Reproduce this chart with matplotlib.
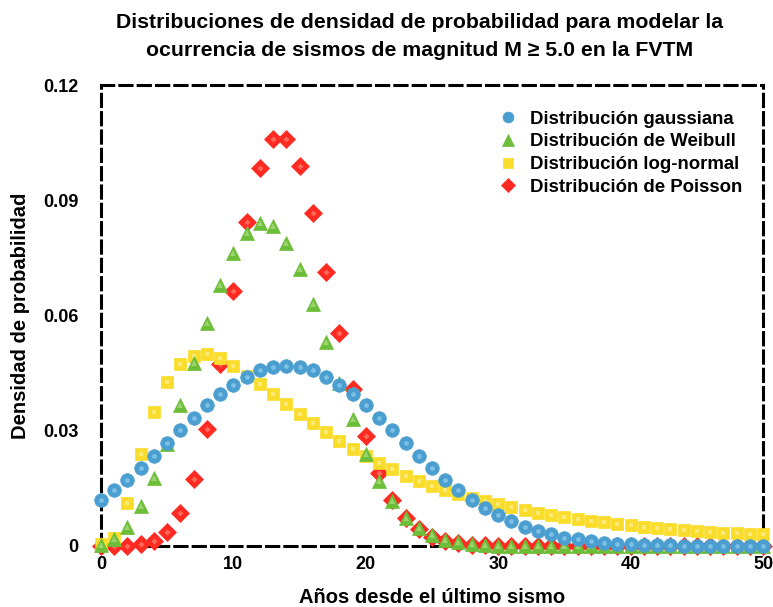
import matplotlib
matplotlib.use('Agg')
import matplotlib.pyplot as plt

plt.rcParams['font.family'] = ['Liberation Sans', 'DejaVu Sans']
plt.rcParams['font.weight'] = 'bold'

# años desde el último sismo
anios = list(range(0, 51))

# densidades
gaussiana = [0.0121, 0.0146, 0.0173, 0.0203, 0.0235, 0.0268, 0.0301, 0.0334, 0.0366, 0.0395,
             0.0420, 0.0441, 0.0457, 0.0466, 0.0469, 0.0466, 0.0457, 0.0441, 0.0420, 0.0395,
             0.0366, 0.0334, 0.0301, 0.0268, 0.0235, 0.0203, 0.0173, 0.0146, 0.0121, 0.0099,
             0.0080, 0.0064, 0.0050, 0.0039, 0.0030, 0.0022, 0.0017, 0.0012, 0.0009, 0.0006,
             0.0004, 0.0003, 0.0002, 0.00014, 0.0001, 0.00006, 0.00004, 0.00002, 0.00001, 0.0, 0.0]

weibull = [0.0003, 0.0018, 0.0050, 0.0104, 0.0177, 0.0265, 0.0368, 0.0476, 0.0580, 0.0680,
           0.0763, 0.0815, 0.0840, 0.0832, 0.0789, 0.0720, 0.0630, 0.0530, 0.0424, 0.0330,
           0.0240, 0.0170, 0.0117, 0.0073, 0.0047, 0.0029, 0.0016, 0.0010, 0.0005, 0.0003,
           0.0001, 0.0001, 0.0, 0.0, 0.0, 0.0, 0.0, 0.0, 0.0, 0.0,
           0.0, 0.0, 0.0, 0.0, 0.0, 0.0, 0.0, 0.0, 0.0, 0.0, 0.0]

lognormal = [0.0004, 0.0020, 0.0112, 0.0239, 0.0349, 0.0427, 0.0474, 0.0495, 0.0500, 0.0490,
             0.0469, 0.0442, 0.0422, 0.0396, 0.0370, 0.0343, 0.0320, 0.0297, 0.0274, 0.0252,
             0.0234, 0.0215, 0.0200, 0.0182, 0.0169, 0.0156, 0.0146, 0.0135, 0.0125, 0.0117,
             0.0109, 0.0101, 0.0094, 0.0086, 0.0080, 0.0075, 0.0070, 0.0065, 0.0062, 0.0057,
             0.0055, 0.0050, 0.0047, 0.0045, 0.0042, 0.0040, 0.0037, 0.0035, 0.0034, 0.0032, 0.0030]

poisson = [0.0, 0.0, 0.0001, 0.0004, 0.0013, 0.0037, 0.0087, 0.0174, 0.0304, 0.0473,
           0.0663, 0.0844, 0.0984, 0.1060, 0.1060, 0.0989, 0.0866, 0.0713, 0.0554, 0.0409,
           0.0286, 0.0191, 0.0121, 0.0074, 0.0043, 0.0024, 0.0013, 0.0007, 0.0003, 0.0002,
           0.0001, 0.0, 0.0, 0.0, 0.0, 0.0, 0.0, 0.0, 0.0, 0.0,
           0.0, 0.0, 0.0, 0.0, 0.0, 0.0, 0.0, 0.0, 0.0, 0.0, 0.0]

series = [
    ('Distribución gaussiana', gaussiana, 'o', '#4a9fd0', '#7cc0e6', 9.8, 5),
    ('Distribución de Weibull', weibull, '^', '#6cbd37', '#9bd46f', 10.3, 4),
    ('Distribución log-normal', lognormal, 's', '#fadd2a', '#fde97a', 9.2, 3),
    ('Distribución de Poisson', poisson, 'D', '#ff2a22', '#ff6a5a', 8.7, 2),
]

fig = plt.figure(figsize=(7.73, 6.07), dpi=100)
ax = fig.add_axes([101/773, 61/607, 662/773, 461/607])

for nombre, vals, mk, col, luz, ms, z in series:
    ax.plot(anios, vals, linestyle='none', marker=mk, markersize=ms, color=col,
            markeredgecolor=col, markeredgewidth=0.5, label=nombre, zorder=z, clip_on=False)
    # brillo central para imitar el relieve
    ax.plot(anios, vals, linestyle='none', marker=mk, markersize=ms*0.35, color=luz,
            markeredgewidth=0, zorder=z + 0.5, clip_on=False)

ax.set_xlim(0, 50)
ax.set_ylim(0, 0.12)
ax.set_xticks([0, 10, 20, 30, 40, 50])
ax.set_yticks([0, 0.03, 0.06, 0.09, 0.12])
ax.set_yticklabels(['0', '0.03', '0.06', '0.09', '0.12'])
ax.tick_params(axis='both', length=0, labelsize=13)
ax.tick_params(axis='y', pad=16)
ax.tick_params(axis='x', pad=7)

for sp in ax.spines.values():
    sp.set_linestyle((0, (4, 2)))
    sp.set_linewidth(2.2)
    sp.set_color('black')
    sp.set_zorder(1)

ax.set_xlabel('Años desde el último sismo', fontsize=14.5, fontweight='bold', labelpad=11)
ax.set_ylabel('Densidad de probabilidad', fontsize=14.5, fontweight='bold', labelpad=10)

fig.text(420/773, 1 - 37/607,
         'Distribuciones de densidad de probabilidad para modelar la\n'
         'ocurrencia de sismos de magnitud M ≥ 5.0 en la FVTM',
         ha='center', va='center', fontsize=15.3, fontweight='bold', linespacing=1.6)

leg = ax.legend(loc='upper left', bbox_to_anchor=(0.6, 0.944), frameon=False,
                fontsize=13.4, handlelength=1, handletextpad=0.7, borderpad=0,
                borderaxespad=0, labelspacing=0.3, markerscale=0.8)

fig.savefig('out.png', dpi=100)
